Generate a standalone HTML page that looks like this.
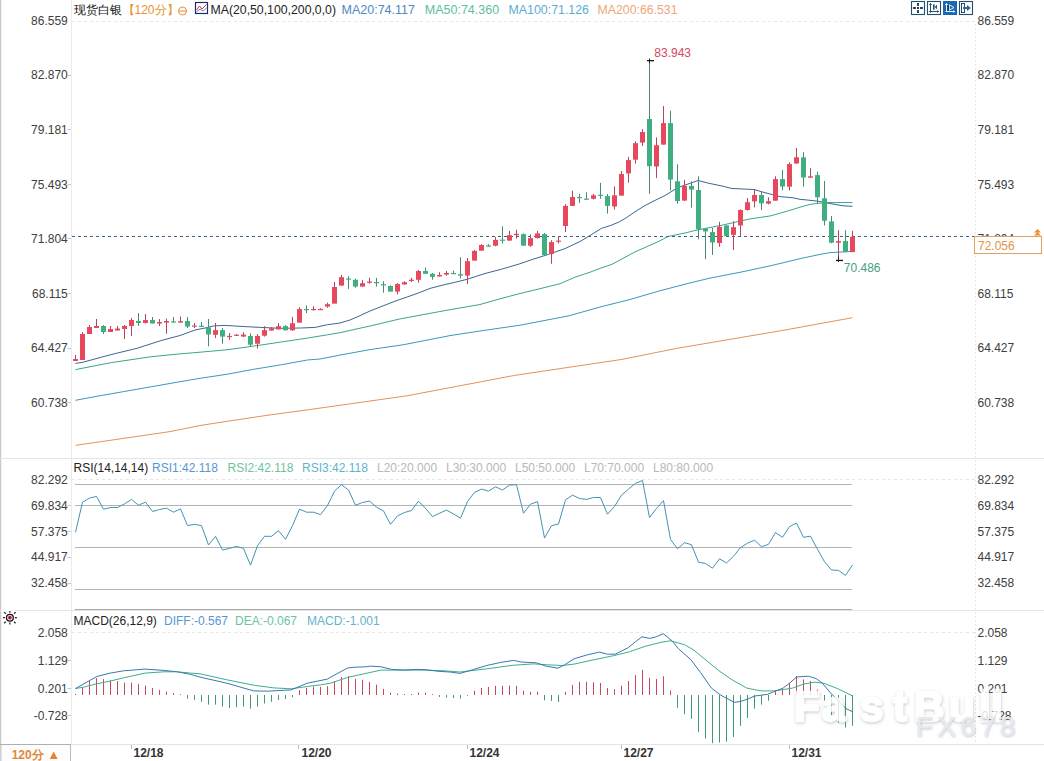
<!DOCTYPE html>
<html><head><meta charset="utf-8"><style>
html,body{margin:0;padding:0;background:#fff;}
body{width:1044px;height:761px;overflow:hidden;}
svg{display:block;font-family:"Liberation Sans", sans-serif;}
</style></head><body>
<svg width="1044" height="761" viewBox="0 0 1044 761">
<rect width="1044" height="761" fill="#fff"/>
<rect x="0" y="0" width="1.2" height="761" fill="#c9c9c9"/>
<line x1="0" y1="458.5" x2="1044" y2="458.5" stroke="#e4e4e4" stroke-width="1"/>
<line x1="0" y1="610.5" x2="1044" y2="610.5" stroke="#e4e4e4" stroke-width="1"/>
<line x1="0" y1="744.5" x2="1044" y2="744.5" stroke="#e4e4e4" stroke-width="1"/>
<line x1="71.5" y1="0" x2="71.5" y2="744" stroke="#ebebeb" stroke-width="1"/>
<line x1="975.5" y1="24" x2="975.5" y2="744" stroke="#e6e6ea" stroke-width="1" stroke-dasharray="2,2"/>
<rect x="0" y="745" width="70" height="16" fill="#fdfdfd"/>
<line x1="70.5" y1="744" x2="70.5" y2="761" stroke="#b8b8b8" stroke-width="1"/>
<line x1="0" y1="744.5" x2="71" y2="744.5" stroke="#b0b0b0" stroke-width="1"/>
<rect x="0" y="745" width="1.5" height="16" fill="#c8d0da"/>
<line x1="72" y1="21.5" x2="975" y2="21.5" stroke="#e6e6e6" stroke-width="1" stroke-dasharray="3,3"/>
<line x1="72" y1="479.5" x2="975" y2="479.5" stroke="#e6e6e6" stroke-width="1" stroke-dasharray="3,3"/>
<line x1="72" y1="632.5" x2="975" y2="632.5" stroke="#e6e6e6" stroke-width="1" stroke-dasharray="3,3"/>
<line x1="67.5" y1="75.5" x2="71" y2="75.5" stroke="#c8c8c8" stroke-width="1"/>
<line x1="67.5" y1="129.5" x2="71" y2="129.5" stroke="#c8c8c8" stroke-width="1"/>
<line x1="67.5" y1="184.5" x2="71" y2="184.5" stroke="#c8c8c8" stroke-width="1"/>
<line x1="67.5" y1="238.5" x2="71" y2="238.5" stroke="#c8c8c8" stroke-width="1"/>
<line x1="67.5" y1="293.5" x2="71" y2="293.5" stroke="#c8c8c8" stroke-width="1"/>
<line x1="67.5" y1="348.5" x2="71" y2="348.5" stroke="#c8c8c8" stroke-width="1"/>
<line x1="67.5" y1="402.5" x2="71" y2="402.5" stroke="#c8c8c8" stroke-width="1"/>
<line x1="67.5" y1="505.5" x2="71" y2="505.5" stroke="#c8c8c8" stroke-width="1"/>
<line x1="67.5" y1="531.5" x2="71" y2="531.5" stroke="#c8c8c8" stroke-width="1"/>
<line x1="67.5" y1="557.5" x2="71" y2="557.5" stroke="#c8c8c8" stroke-width="1"/>
<line x1="67.5" y1="583.5" x2="71" y2="583.5" stroke="#c8c8c8" stroke-width="1"/>
<line x1="67.5" y1="660.5" x2="71" y2="660.5" stroke="#c8c8c8" stroke-width="1"/>
<line x1="67.5" y1="688.5" x2="71" y2="688.5" stroke="#c8c8c8" stroke-width="1"/>
<line x1="67.5" y1="715.5" x2="71" y2="715.5" stroke="#c8c8c8" stroke-width="1"/>
<line x1="75" y1="484.5" x2="852" y2="484.5" stroke="#b4b4b4" stroke-width="1"/>
<line x1="75" y1="505.5" x2="852" y2="505.5" stroke="#b4b4b4" stroke-width="1"/>
<line x1="75" y1="547.5" x2="852" y2="547.5" stroke="#b4b4b4" stroke-width="1"/>
<line x1="75" y1="589.5" x2="852" y2="589.5" stroke="#b4b4b4" stroke-width="1"/>
<line x1="75" y1="609.5" x2="852" y2="609.5" stroke="#a8a8a8" stroke-width="1"/>
<polyline points="75.5,445.3 100.0,441.8 170.0,431.6 200.0,425.5 220.0,422.4 270.0,414.9 300.0,410.9 330.0,406.7 407.0,395.8 514.6,375.4 622.0,359.4 675.5,348.6 729.0,339.5 784.0,330.2 852.5,317.7" fill="none" stroke="#e4915c" stroke-width="1"/>
<polyline points="75.5,400.3 96.8,396.3 123.6,391.6 150.5,386.9 177.3,382.2 200.0,378.3 226.8,374.3 253.6,369.3 280.5,364.9 307.3,360.0 320.0,359.0 340.0,355.1 370.0,349.6 403.0,344.8 450.0,335.6 480.0,331.0 520.0,325.2 569.0,315.8 600.0,307.0 630.0,299.5 659.0,291.0 685.0,284.2 710.0,278.1 740.0,272.3 770.0,265.9 800.0,258.7 820.0,254.4 830.0,252.6 845.0,251.8 852.5,251.3" fill="none" stroke="#3a98bd" stroke-width="1"/>
<polyline points="75.5,369.6 110.2,362.8 150.5,356.8 177.3,354.1 200.0,352.2 226.8,349.8 253.6,346.1 280.5,342.1 307.3,338.1 327.4,334.8 340.0,332.7 355.0,329.3 370.0,326.0 400.0,318.9 420.0,315.2 450.0,309.7 480.0,304.5 500.0,298.8 520.0,293.5 540.0,288.7 560.0,283.7 575.0,277.2 590.0,272.2 600.0,268.4 612.0,264.3 635.0,251.9 659.0,241.3 668.0,236.5 685.0,233.0 697.0,230.0 706.0,228.3 722.8,225.0 750.5,218.8 770.0,216.0 778.0,213.8 790.0,210.3 800.0,207.2 810.0,204.4 818.0,203.3 830.0,202.6 852.5,202.5" fill="none" stroke="#3aa68a" stroke-width="1"/>
<polyline points="75.5,363.5 83.4,362.1 110.2,354.8 137.0,348.3 161.2,340.5 180.0,335.5 195.0,330.0 205.0,328.0 213.4,326.0 224.1,325.4 246.9,326.7 260.3,327.4 280.5,328.3 300.6,328.0 315.3,327.4 327.4,324.7 340.0,323.0 350.0,320.0 357.0,317.0 370.0,311.0 395.0,301.2 410.0,296.0 420.0,292.4 430.0,288.4 443.0,285.0 455.0,282.3 467.0,279.3 485.0,273.5 501.6,269.2 518.9,264.1 533.4,259.1 547.8,254.6 565.0,248.6 580.0,241.5 592.0,234.3 601.4,228.4 610.9,225.4 619.2,221.9 626.2,217.8 635.0,211.8 645.0,205.5 655.0,200.4 665.0,195.5 670.0,192.5 677.0,188.0 690.0,183.3 698.0,180.5 709.0,183.3 722.0,186.0 732.0,188.5 754.0,189.5 764.0,192.4 780.0,196.6 793.0,197.8 800.0,199.3 810.0,200.3 818.0,201.2 830.0,203.5 843.0,205.8 852.5,206.3" fill="none" stroke="#3b6795" stroke-width="1"/>
<line x1="72" y1="236.5" x2="975" y2="236.5" stroke="#3d5d7d" stroke-width="1" stroke-dasharray="3,3"/>
<rect x="75" y="355.0" width="1" height="6.0" fill="#b0455c"/>
<rect x="73" y="359.0" width="5" height="2.0" fill="#e8485e"/>
<rect x="82" y="332.0" width="1" height="28.0" fill="#b0455c"/>
<rect x="80" y="334.0" width="5" height="26.0" fill="#e8485e"/>
<rect x="89" y="325.0" width="1" height="9.0" fill="#b0455c"/>
<rect x="87" y="327.0" width="5" height="7.0" fill="#e8485e"/>
<rect x="96" y="319.0" width="1" height="9.0" fill="#b0455c"/>
<rect x="94" y="326.0" width="5" height="2.0" fill="#e8485e"/>
<rect x="103" y="325.0" width="1" height="9.0" fill="#468a70"/>
<rect x="101" y="326.0" width="5" height="6.0" fill="#3fae80"/>
<rect x="110" y="326.0" width="1" height="6.0" fill="#b0455c"/>
<rect x="108" y="329.0" width="5" height="3.0" fill="#e8485e"/>
<rect x="117" y="326.0" width="1" height="4.5" fill="#b0455c"/>
<rect x="115" y="328.5" width="5" height="2.0" fill="#e8485e"/>
<rect x="124" y="325.0" width="1" height="14.0" fill="#b0455c"/>
<rect x="122" y="326.0" width="5" height="3.0" fill="#e8485e"/>
<rect x="131" y="318.0" width="1" height="18.0" fill="#b0455c"/>
<rect x="129" y="320.0" width="5" height="6.0" fill="#e8485e"/>
<rect x="138" y="313.0" width="1" height="13.0" fill="#468a70"/>
<rect x="136" y="321.0" width="5" height="2.0" fill="#3fae80"/>
<rect x="145" y="314.0" width="1" height="9.5" fill="#b0455c"/>
<rect x="143" y="320.0" width="5" height="3.0" fill="#e8485e"/>
<rect x="152" y="317.0" width="1" height="6.5" fill="#468a70"/>
<rect x="150" y="320.0" width="5" height="3.5" fill="#3fae80"/>
<rect x="159" y="319.0" width="1" height="7.0" fill="#b0455c"/>
<rect x="157" y="322.0" width="5" height="1.5" fill="#e8485e"/>
<rect x="166" y="318.6" width="1" height="15.1" fill="#b0455c"/>
<rect x="164" y="321.0" width="5" height="1.6" fill="#e8485e"/>
<rect x="173" y="317.0" width="1" height="5.6" fill="#468a70"/>
<rect x="171" y="321.4" width="5" height="1.2" fill="#3fae80"/>
<rect x="180" y="316.5" width="1" height="6.1" fill="#b0455c"/>
<rect x="178" y="321.2" width="5" height="1.4" fill="#e8485e"/>
<rect x="187" y="317.0" width="1" height="11.0" fill="#468a70"/>
<rect x="185" y="321.0" width="5" height="5.5" fill="#3fae80"/>
<rect x="194" y="323.0" width="1" height="5.0" fill="#b0455c"/>
<rect x="192" y="325.5" width="5" height="1.2" fill="#e8485e"/>
<rect x="201" y="322.0" width="1" height="4.7" fill="#468a70"/>
<rect x="199" y="325.8" width="5" height="1.2" fill="#3fae80"/>
<rect x="208" y="319.0" width="1" height="27.3" fill="#468a70"/>
<rect x="206" y="327.4" width="5" height="7.1" fill="#3fae80"/>
<rect x="215" y="323.0" width="1" height="15.0" fill="#b0455c"/>
<rect x="213" y="330.1" width="5" height="4.7" fill="#e8485e"/>
<rect x="222" y="328.0" width="1" height="15.8" fill="#468a70"/>
<rect x="220" y="330.1" width="5" height="6.5" fill="#3fae80"/>
<rect x="229" y="333.0" width="1" height="6.8" fill="#b0455c"/>
<rect x="227" y="335.9" width="5" height="1.2" fill="#e8485e"/>
<rect x="236" y="334.0" width="1" height="2.0" fill="#b0455c"/>
<rect x="234" y="334.7" width="5" height="1.2" fill="#e8485e"/>
<rect x="243" y="332.3" width="1" height="4.3" fill="#b0455c"/>
<rect x="241" y="334.6" width="5" height="2.0" fill="#e8485e"/>
<rect x="250" y="333.4" width="1" height="12.6" fill="#468a70"/>
<rect x="248" y="336.0" width="5" height="8.7" fill="#3fae80"/>
<rect x="257" y="334.1" width="1" height="14.4" fill="#b0455c"/>
<rect x="255" y="336.0" width="5" height="7.7" fill="#e8485e"/>
<rect x="264" y="326.2" width="1" height="10.4" fill="#b0455c"/>
<rect x="262" y="330.1" width="5" height="5.6" fill="#e8485e"/>
<rect x="271" y="327.3" width="1" height="3.2" fill="#b0455c"/>
<rect x="269" y="328.3" width="5" height="2.2" fill="#e8485e"/>
<rect x="278" y="323.0" width="1" height="6.4" fill="#b0455c"/>
<rect x="276" y="326.2" width="5" height="3.2" fill="#e8485e"/>
<rect x="285" y="325.2" width="1" height="5.1" fill="#468a70"/>
<rect x="283" y="326.1" width="5" height="4.2" fill="#3fae80"/>
<rect x="292" y="316.9" width="1" height="13.8" fill="#b0455c"/>
<rect x="290" y="323.2" width="5" height="7.1" fill="#e8485e"/>
<rect x="299" y="307.3" width="1" height="15.3" fill="#b0455c"/>
<rect x="297" y="309.1" width="5" height="13.5" fill="#e8485e"/>
<rect x="306" y="305.4" width="1" height="7.6" fill="#468a70"/>
<rect x="304" y="309.0" width="5" height="1.2" fill="#3fae80"/>
<rect x="313" y="306.3" width="1" height="4.2" fill="#b0455c"/>
<rect x="311" y="309.0" width="5" height="1.2" fill="#e8485e"/>
<rect x="320" y="308.2" width="1" height="1.8" fill="#b0455c"/>
<rect x="318" y="309.0" width="5" height="1.2" fill="#e8485e"/>
<rect x="327" y="302.7" width="1" height="5.0" fill="#b0455c"/>
<rect x="325" y="304.2" width="5" height="2.4" fill="#e8485e"/>
<rect x="334" y="282.0" width="1" height="21.6" fill="#b0455c"/>
<rect x="332" y="287.0" width="5" height="16.6" fill="#e8485e"/>
<rect x="341" y="275.0" width="1" height="10.6" fill="#b0455c"/>
<rect x="339" y="277.2" width="5" height="8.4" fill="#e8485e"/>
<rect x="348" y="276.0" width="1" height="12.9" fill="#468a70"/>
<rect x="346" y="278.5" width="5" height="1.2" fill="#3fae80"/>
<rect x="355" y="278.7" width="1" height="9.0" fill="#468a70"/>
<rect x="353" y="279.8" width="5" height="6.8" fill="#3fae80"/>
<rect x="362" y="280.1" width="1" height="6.5" fill="#b0455c"/>
<rect x="360" y="283.2" width="5" height="3.4" fill="#e8485e"/>
<rect x="369" y="277.8" width="1" height="5.9" fill="#b0455c"/>
<rect x="367" y="281.5" width="5" height="1.3" fill="#e8485e"/>
<rect x="376" y="278.0" width="1" height="8.6" fill="#468a70"/>
<rect x="374" y="282.0" width="5" height="1.3" fill="#3fae80"/>
<rect x="383" y="281.2" width="1" height="11.5" fill="#468a70"/>
<rect x="381" y="284.2" width="5" height="1.2" fill="#3fae80"/>
<rect x="390" y="285.2" width="1" height="6.4" fill="#468a70"/>
<rect x="388" y="286.0" width="5" height="5.6" fill="#3fae80"/>
<rect x="397" y="283.0" width="1" height="11.5" fill="#b0455c"/>
<rect x="395" y="284.1" width="5" height="7.5" fill="#e8485e"/>
<rect x="404" y="281.2" width="1" height="3.3" fill="#b0455c"/>
<rect x="402" y="282.2" width="5" height="2.3" fill="#e8485e"/>
<rect x="411" y="277.8" width="1" height="4.2" fill="#b0455c"/>
<rect x="409" y="279.7" width="5" height="1.3" fill="#e8485e"/>
<rect x="418" y="270.0" width="1" height="12.7" fill="#b0455c"/>
<rect x="416" y="271.0" width="5" height="8.8" fill="#e8485e"/>
<rect x="425" y="267.5" width="1" height="6.3" fill="#468a70"/>
<rect x="423" y="271.0" width="5" height="2.8" fill="#3fae80"/>
<rect x="432" y="273.0" width="1" height="6.7" fill="#468a70"/>
<rect x="430" y="273.8" width="5" height="3.1" fill="#3fae80"/>
<rect x="439" y="272.2" width="1" height="4.3" fill="#b0455c"/>
<rect x="437" y="275.0" width="5" height="1.5" fill="#e8485e"/>
<rect x="446" y="271.0" width="1" height="4.7" fill="#b0455c"/>
<rect x="444" y="273.0" width="5" height="1.6" fill="#e8485e"/>
<rect x="453" y="270.6" width="1" height="3.4" fill="#468a70"/>
<rect x="451" y="273.0" width="5" height="1.2" fill="#3fae80"/>
<rect x="460" y="257.2" width="1" height="21.3" fill="#468a70"/>
<rect x="458" y="274.2" width="5" height="1.4" fill="#3fae80"/>
<rect x="467" y="258.0" width="1" height="26.0" fill="#b0455c"/>
<rect x="465" y="261.2" width="5" height="14.4" fill="#e8485e"/>
<rect x="474" y="250.1" width="1" height="10.5" fill="#b0455c"/>
<rect x="472" y="250.9" width="5" height="9.7" fill="#e8485e"/>
<rect x="481" y="244.2" width="1" height="6.5" fill="#b0455c"/>
<rect x="479" y="245.0" width="5" height="5.7" fill="#e8485e"/>
<rect x="488" y="244.2" width="1" height="2.4" fill="#468a70"/>
<rect x="486" y="245.4" width="5" height="1.2" fill="#3fae80"/>
<rect x="495" y="237.0" width="1" height="9.4" fill="#b0455c"/>
<rect x="493" y="239.9" width="5" height="5.8" fill="#e8485e"/>
<rect x="502" y="226.2" width="1" height="17.3" fill="#468a70"/>
<rect x="500" y="239.6" width="5" height="1.2" fill="#3fae80"/>
<rect x="509" y="230.9" width="1" height="9.7" fill="#b0455c"/>
<rect x="507" y="235.2" width="5" height="5.4" fill="#e8485e"/>
<rect x="516" y="229.8" width="1" height="9.0" fill="#b0455c"/>
<rect x="514" y="233.8" width="5" height="1.4" fill="#e8485e"/>
<rect x="523" y="233.4" width="1" height="12.3" fill="#468a70"/>
<rect x="521" y="234.1" width="5" height="11.6" fill="#3fae80"/>
<rect x="530" y="234.5" width="1" height="12.3" fill="#b0455c"/>
<rect x="528" y="238.1" width="5" height="7.6" fill="#e8485e"/>
<rect x="537" y="230.9" width="1" height="7.6" fill="#b0455c"/>
<rect x="535" y="233.4" width="5" height="4.7" fill="#e8485e"/>
<rect x="544" y="233.0" width="1" height="22.5" fill="#468a70"/>
<rect x="542" y="234.1" width="5" height="21.0" fill="#3fae80"/>
<rect x="551" y="240.3" width="1" height="23.5" fill="#b0455c"/>
<rect x="549" y="242.1" width="5" height="11.9" fill="#e8485e"/>
<rect x="558" y="236.7" width="1" height="6.8" fill="#b0455c"/>
<rect x="556" y="240.6" width="5" height="1.2" fill="#e8485e"/>
<rect x="565" y="204.2" width="1" height="27.8" fill="#b0455c"/>
<rect x="563" y="205.9" width="5" height="20.1" fill="#e8485e"/>
<rect x="572" y="190.5" width="1" height="15.4" fill="#b0455c"/>
<rect x="570" y="197.0" width="5" height="8.9" fill="#e8485e"/>
<rect x="579" y="193.7" width="1" height="9.3" fill="#468a70"/>
<rect x="577" y="197.0" width="5" height="1.2" fill="#3fae80"/>
<rect x="586" y="192.3" width="1" height="7.5" fill="#468a70"/>
<rect x="584" y="198.6" width="5" height="1.2" fill="#3fae80"/>
<rect x="593" y="194.0" width="1" height="5.4" fill="#b0455c"/>
<rect x="591" y="195.3" width="5" height="3.5" fill="#e8485e"/>
<rect x="600" y="182.9" width="1" height="15.9" fill="#468a70"/>
<rect x="598" y="194.7" width="5" height="1.2" fill="#3fae80"/>
<rect x="607" y="194.0" width="1" height="19.6" fill="#468a70"/>
<rect x="605" y="196.1" width="5" height="9.8" fill="#3fae80"/>
<rect x="614" y="186.4" width="1" height="23.1" fill="#b0455c"/>
<rect x="612" y="195.3" width="5" height="11.2" fill="#e8485e"/>
<rect x="621" y="171.0" width="1" height="24.6" fill="#b0455c"/>
<rect x="619" y="174.0" width="5" height="21.6" fill="#e8485e"/>
<rect x="628" y="156.8" width="1" height="25.8" fill="#b0455c"/>
<rect x="626" y="160.1" width="5" height="13.3" fill="#e8485e"/>
<rect x="635" y="141.3" width="1" height="22.3" fill="#b0455c"/>
<rect x="633" y="143.2" width="5" height="16.5" fill="#e8485e"/>
<rect x="642" y="129.2" width="1" height="16.7" fill="#b0455c"/>
<rect x="640" y="132.0" width="5" height="10.6" fill="#e8485e"/>
<rect x="649" y="60.5" width="1" height="133.3" fill="#468a70"/>
<rect x="647" y="119.0" width="5" height="47.2" fill="#3fae80"/>
<rect x="656" y="137.3" width="1" height="40.7" fill="#b0455c"/>
<rect x="654" y="145.2" width="5" height="21.3" fill="#e8485e"/>
<rect x="663" y="106.0" width="1" height="38.6" fill="#b0455c"/>
<rect x="661" y="123.1" width="5" height="21.5" fill="#e8485e"/>
<rect x="670" y="110.7" width="1" height="79.8" fill="#468a70"/>
<rect x="668" y="123.1" width="5" height="56.5" fill="#3fae80"/>
<rect x="677" y="164.3" width="1" height="39.4" fill="#468a70"/>
<rect x="675" y="181.3" width="5" height="19.7" fill="#3fae80"/>
<rect x="684" y="180.0" width="1" height="20.6" fill="#b0455c"/>
<rect x="682" y="185.9" width="5" height="14.7" fill="#e8485e"/>
<rect x="691" y="181.3" width="1" height="26.3" fill="#468a70"/>
<rect x="689" y="185.9" width="5" height="3.7" fill="#3fae80"/>
<rect x="698" y="176.2" width="1" height="63.1" fill="#468a70"/>
<rect x="696" y="190.0" width="5" height="39.3" fill="#3fae80"/>
<rect x="705" y="228.0" width="1" height="31.2" fill="#468a70"/>
<rect x="703" y="228.4" width="5" height="3.0" fill="#3fae80"/>
<rect x="712" y="228.0" width="1" height="26.9" fill="#468a70"/>
<rect x="710" y="232.1" width="5" height="10.3" fill="#3fae80"/>
<rect x="719" y="221.8" width="1" height="24.9" fill="#b0455c"/>
<rect x="717" y="226.8" width="5" height="16.2" fill="#e8485e"/>
<rect x="726" y="224.9" width="1" height="11.2" fill="#468a70"/>
<rect x="724" y="225.5" width="5" height="10.6" fill="#3fae80"/>
<rect x="733" y="221.2" width="1" height="28.7" fill="#b0455c"/>
<rect x="731" y="227.2" width="5" height="7.7" fill="#e8485e"/>
<rect x="740" y="209.3" width="1" height="26.8" fill="#b0455c"/>
<rect x="738" y="210.0" width="5" height="15.5" fill="#e8485e"/>
<rect x="747" y="198.1" width="1" height="12.5" fill="#b0455c"/>
<rect x="745" y="202.2" width="5" height="7.8" fill="#e8485e"/>
<rect x="754" y="189.3" width="1" height="18.1" fill="#b0455c"/>
<rect x="752" y="195.0" width="5" height="6.4" fill="#e8485e"/>
<rect x="761" y="191.8" width="1" height="18.2" fill="#468a70"/>
<rect x="759" y="195.0" width="5" height="8.4" fill="#3fae80"/>
<rect x="768" y="197.2" width="1" height="7.2" fill="#b0455c"/>
<rect x="766" y="201.2" width="5" height="2.4" fill="#e8485e"/>
<rect x="775" y="176.3" width="1" height="24.4" fill="#b0455c"/>
<rect x="773" y="179.1" width="5" height="21.6" fill="#e8485e"/>
<rect x="782" y="169.9" width="1" height="20.5" fill="#468a70"/>
<rect x="780" y="179.1" width="5" height="7.4" fill="#3fae80"/>
<rect x="789" y="162.3" width="1" height="28.1" fill="#b0455c"/>
<rect x="787" y="164.1" width="5" height="22.6" fill="#e8485e"/>
<rect x="796" y="148.1" width="1" height="15.4" fill="#b0455c"/>
<rect x="794" y="157.3" width="5" height="6.2" fill="#e8485e"/>
<rect x="803" y="152.1" width="1" height="34.4" fill="#468a70"/>
<rect x="801" y="157.3" width="5" height="20.2" fill="#3fae80"/>
<rect x="810" y="168.1" width="1" height="9.6" fill="#b0455c"/>
<rect x="808" y="176.3" width="5" height="1.4" fill="#e8485e"/>
<rect x="817" y="171.7" width="1" height="31.6" fill="#468a70"/>
<rect x="815" y="175.1" width="5" height="22.2" fill="#3fae80"/>
<rect x="824" y="181.0" width="1" height="44.5" fill="#468a70"/>
<rect x="822" y="198.3" width="5" height="22.5" fill="#3fae80"/>
<rect x="831" y="216.0" width="1" height="27.3" fill="#468a70"/>
<rect x="829" y="221.4" width="5" height="21.3" fill="#3fae80"/>
<rect x="838" y="230.2" width="1" height="30.2" fill="#b0455c"/>
<rect x="836" y="241.1" width="5" height="1.6" fill="#e8485e"/>
<rect x="845" y="230.2" width="1" height="21.9" fill="#468a70"/>
<rect x="843" y="241.1" width="5" height="11.0" fill="#3fae80"/>
<rect x="852" y="230.8" width="1" height="21.3" fill="#b0455c"/>
<rect x="850" y="236.7" width="5" height="15.4" fill="#e8485e"/>
<rect x="647" y="60" width="7" height="1.3" fill="#111"/>
<rect x="836" y="259.8" width="7" height="1.3" fill="#111"/>
<rect x="649" y="58.5" width="1" height="5" fill="#222"/>
<rect x="838" y="256.5" width="1" height="5.5" fill="#222"/>
<polyline points="75.5,532.3 82.5,502.1 89.5,498.1 96.5,496.4 103.5,509.2 110.5,507.5 117.5,507.5 124.5,503.9 131.5,499.4 138.5,505.2 145.5,502.1 152.5,511.5 159.5,509.5 166.5,508.2 173.5,512.2 180.5,508.8 187.5,525.6 194.5,524.3 201.5,525.6 208.5,545.0 215.5,536.3 222.5,550.0 229.5,548.4 236.5,546.4 243.5,548.4 250.5,565.2 257.5,545.7 264.5,536.3 271.5,536.3 278.5,530.7 285.5,539.3 292.5,525.6 299.5,509.2 306.5,512.2 313.5,512.2 320.5,514.6 327.5,505.5 334.5,491.2 341.5,484.7 348.5,490.0 355.5,505.2 362.5,502.5 369.5,501.1 376.5,507.2 383.5,510.9 390.5,524.3 397.5,515.9 404.5,512.5 411.5,510.5 418.5,501.1 425.5,508.3 432.5,516.6 439.5,513.2 446.5,510.1 453.5,513.9 460.5,518.2 467.5,501.5 474.5,492.4 481.5,489.1 488.5,491.1 495.5,486.8 502.5,490.0 509.5,485.1 516.5,484.7 523.5,513.2 530.5,504.2 537.5,501.6 544.5,538.0 551.5,525.7 558.5,524.0 565.5,499.8 572.5,495.1 579.5,498.5 586.5,499.4 593.5,497.5 600.5,497.5 607.5,514.2 614.5,506.5 621.5,495.1 628.5,489.1 635.5,483.3 642.5,480.4 649.5,517.6 656.5,508.5 663.5,500.5 670.5,539.4 677.5,548.8 684.5,542.7 691.5,544.7 698.5,562.2 705.5,563.5 712.5,568.2 719.5,558.8 726.5,563.0 733.5,556.3 740.5,547.6 747.5,543.2 754.5,540.2 761.5,546.7 768.5,544.3 775.5,532.5 782.5,537.3 789.5,526.6 796.5,523.1 803.5,537.3 810.5,536.2 817.5,549.3 824.5,561.7 831.5,570.0 838.5,570.4 845.5,575.4 852.5,565.0" fill="none" stroke="#4493b3" stroke-width="1"/>
<rect x="75" y="693.9" width="1" height="1.1" fill="#c8485f"/>
<rect x="82" y="687.2" width="1" height="7.8" fill="#c8485f"/>
<rect x="89" y="681.1" width="1" height="13.9" fill="#c8485f"/>
<rect x="96" y="678.1" width="1" height="16.9" fill="#c8485f"/>
<rect x="103" y="679.1" width="1" height="15.9" fill="#c8485f"/>
<rect x="110" y="680.2" width="1" height="14.8" fill="#c8485f"/>
<rect x="117" y="681.1" width="1" height="13.9" fill="#c8485f"/>
<rect x="124" y="682.5" width="1" height="12.5" fill="#c8485f"/>
<rect x="131" y="682.5" width="1" height="12.5" fill="#c8485f"/>
<rect x="138" y="683.8" width="1" height="11.2" fill="#c8485f"/>
<rect x="145" y="685.6" width="1" height="9.4" fill="#c8485f"/>
<rect x="152" y="687.9" width="1" height="7.1" fill="#c8485f"/>
<rect x="159" y="689.9" width="1" height="5.1" fill="#c8485f"/>
<rect x="166" y="691.5" width="1" height="3.5" fill="#c8485f"/>
<rect x="173" y="693.2" width="1" height="1.8" fill="#c8485f"/>
<rect x="180" y="694.2" width="1" height="0.8" fill="#c8485f"/>
<rect x="187" y="695.0" width="1" height="3.6" fill="#3f9a74"/>
<rect x="194" y="695.0" width="1" height="4.9" fill="#3f9a74"/>
<rect x="201" y="695.0" width="1" height="6.9" fill="#3f9a74"/>
<rect x="208" y="695.0" width="1" height="9.6" fill="#3f9a74"/>
<rect x="215" y="695.0" width="1" height="9.6" fill="#3f9a74"/>
<rect x="222" y="695.0" width="1" height="11.6" fill="#3f9a74"/>
<rect x="229" y="695.0" width="1" height="13.0" fill="#3f9a74"/>
<rect x="236" y="695.0" width="1" height="12.3" fill="#3f9a74"/>
<rect x="243" y="695.0" width="1" height="11.6" fill="#3f9a74"/>
<rect x="250" y="695.0" width="1" height="13.6" fill="#3f9a74"/>
<rect x="257" y="695.0" width="1" height="11.6" fill="#3f9a74"/>
<rect x="264" y="695.0" width="1" height="8.5" fill="#3f9a74"/>
<rect x="271" y="695.0" width="1" height="6.7" fill="#3f9a74"/>
<rect x="278" y="695.0" width="1" height="4.9" fill="#3f9a74"/>
<rect x="285" y="695.0" width="1" height="4.0" fill="#3f9a74"/>
<rect x="292" y="695.0" width="1" height="2.2" fill="#3f9a74"/>
<rect x="299" y="690.1" width="1" height="4.9" fill="#c8485f"/>
<rect x="306" y="687.9" width="1" height="7.1" fill="#c8485f"/>
<rect x="313" y="686.5" width="1" height="8.5" fill="#c8485f"/>
<rect x="320" y="686.9" width="1" height="8.1" fill="#c8485f"/>
<rect x="327" y="686.1" width="1" height="8.9" fill="#c8485f"/>
<rect x="334" y="681.1" width="1" height="13.9" fill="#c8485f"/>
<rect x="341" y="677.1" width="1" height="17.9" fill="#c8485f"/>
<rect x="348" y="676.1" width="1" height="18.9" fill="#c8485f"/>
<rect x="355" y="678.8" width="1" height="16.2" fill="#c8485f"/>
<rect x="362" y="679.8" width="1" height="15.2" fill="#c8485f"/>
<rect x="369" y="681.9" width="1" height="13.1" fill="#c8485f"/>
<rect x="376" y="684.6" width="1" height="10.4" fill="#c8485f"/>
<rect x="383" y="688.9" width="1" height="6.1" fill="#c8485f"/>
<rect x="390" y="692.6" width="1" height="2.4" fill="#c8485f"/>
<rect x="397" y="693.6" width="1" height="1.4" fill="#c8485f"/>
<rect x="404" y="694.0" width="1" height="1.0" fill="#c8485f"/>
<rect x="411" y="694.0" width="1" height="1.0" fill="#c8485f"/>
<rect x="418" y="692.6" width="1" height="2.4" fill="#c8485f"/>
<rect x="425" y="692.6" width="1" height="2.4" fill="#c8485f"/>
<rect x="432" y="694.2" width="1" height="0.8" fill="#c8485f"/>
<rect x="439" y="695.0" width="1" height="2.0" fill="#3f9a74"/>
<rect x="446" y="695.0" width="1" height="2.6" fill="#3f9a74"/>
<rect x="453" y="695.0" width="1" height="3.0" fill="#3f9a74"/>
<rect x="460" y="695.0" width="1" height="3.5" fill="#3f9a74"/>
<rect x="467" y="695.0" width="1" height="0.8" fill="#3f9a74"/>
<rect x="474" y="690.7" width="1" height="4.3" fill="#c8485f"/>
<rect x="481" y="688.0" width="1" height="7.0" fill="#c8485f"/>
<rect x="488" y="686.9" width="1" height="8.1" fill="#c8485f"/>
<rect x="495" y="685.9" width="1" height="9.1" fill="#c8485f"/>
<rect x="502" y="685.9" width="1" height="9.1" fill="#c8485f"/>
<rect x="509" y="685.6" width="1" height="9.4" fill="#c8485f"/>
<rect x="516" y="685.9" width="1" height="9.1" fill="#c8485f"/>
<rect x="523" y="690.7" width="1" height="4.3" fill="#c8485f"/>
<rect x="530" y="692.0" width="1" height="3.0" fill="#c8485f"/>
<rect x="537" y="691.6" width="1" height="3.4" fill="#c8485f"/>
<rect x="544" y="695.0" width="1" height="5.3" fill="#3f9a74"/>
<rect x="551" y="695.0" width="1" height="6.0" fill="#3f9a74"/>
<rect x="558" y="695.0" width="1" height="7.0" fill="#3f9a74"/>
<rect x="565" y="692.0" width="1" height="3.0" fill="#c8485f"/>
<rect x="572" y="684.9" width="1" height="10.1" fill="#c8485f"/>
<rect x="579" y="681.8" width="1" height="13.2" fill="#c8485f"/>
<rect x="586" y="681.8" width="1" height="13.2" fill="#c8485f"/>
<rect x="593" y="682.2" width="1" height="12.8" fill="#c8485f"/>
<rect x="600" y="683.0" width="1" height="12.0" fill="#c8485f"/>
<rect x="607" y="688.1" width="1" height="6.9" fill="#c8485f"/>
<rect x="614" y="689.3" width="1" height="5.7" fill="#c8485f"/>
<rect x="621" y="685.7" width="1" height="9.3" fill="#c8485f"/>
<rect x="628" y="681.0" width="1" height="14.0" fill="#c8485f"/>
<rect x="635" y="675.1" width="1" height="19.9" fill="#c8485f"/>
<rect x="642" y="669.9" width="1" height="25.1" fill="#c8485f"/>
<rect x="649" y="677.8" width="1" height="17.2" fill="#c8485f"/>
<rect x="656" y="678.9" width="1" height="16.1" fill="#c8485f"/>
<rect x="663" y="676.2" width="1" height="18.8" fill="#c8485f"/>
<rect x="670" y="690.4" width="1" height="4.6" fill="#c8485f"/>
<rect x="677" y="695.0" width="1" height="12.8" fill="#3f9a74"/>
<rect x="684" y="695.0" width="1" height="19.1" fill="#3f9a74"/>
<rect x="691" y="695.0" width="1" height="23.8" fill="#3f9a74"/>
<rect x="698" y="695.0" width="1" height="37.2" fill="#3f9a74"/>
<rect x="705" y="695.0" width="1" height="43.5" fill="#3f9a74"/>
<rect x="712" y="695.0" width="1" height="48.2" fill="#3f9a74"/>
<rect x="719" y="695.0" width="1" height="47.5" fill="#3f9a74"/>
<rect x="726" y="695.0" width="1" height="46.7" fill="#3f9a74"/>
<rect x="733" y="695.0" width="1" height="42.0" fill="#3f9a74"/>
<rect x="740" y="695.0" width="1" height="30.9" fill="#3f9a74"/>
<rect x="747" y="695.0" width="1" height="23.0" fill="#3f9a74"/>
<rect x="754" y="695.0" width="1" height="13.6" fill="#3f9a74"/>
<rect x="761" y="695.0" width="1" height="9.6" fill="#3f9a74"/>
<rect x="768" y="695.0" width="1" height="5.7" fill="#3f9a74"/>
<rect x="775" y="691.2" width="1" height="3.8" fill="#c8485f"/>
<rect x="782" y="688.9" width="1" height="6.1" fill="#c8485f"/>
<rect x="789" y="683.0" width="1" height="12.0" fill="#c8485f"/>
<rect x="796" y="676.2" width="1" height="18.8" fill="#c8485f"/>
<rect x="803" y="679.4" width="1" height="15.6" fill="#c8485f"/>
<rect x="810" y="681.0" width="1" height="14.0" fill="#c8485f"/>
<rect x="817" y="689.6" width="1" height="5.4" fill="#c8485f"/>
<rect x="824" y="695.0" width="1" height="5.7" fill="#3f9a74"/>
<rect x="831" y="695.0" width="1" height="20.0" fill="#3f9a74"/>
<rect x="838" y="695.0" width="1" height="27.7" fill="#3f9a74"/>
<rect x="845" y="695.0" width="1" height="32.5" fill="#3f9a74"/>
<rect x="852" y="695.0" width="1" height="30.9" fill="#3f9a74"/>
<polyline points="75.5,688.5 83.4,687.2 96.8,683.8 110.2,681.1 123.6,677.8 145.0,673.1 163.9,671.8 177.3,671.8 190.7,673.1 200.0,673.8 226.8,679.8 253.6,685.2 273.8,687.9 291.2,688.8 307.3,686.5 320.7,684.8 330.0,683.3 347.4,677.5 363.5,673.9 381.0,670.1 397.0,670.1 423.9,670.1 444.0,670.8 460.0,672.0 486.8,668.8 513.6,665.2 533.8,663.9 547.2,664.8 561.9,665.5 574.0,664.1 587.4,661.2 600.0,658.5 613.6,655.7 629.4,651.8 645.2,646.3 661.0,642.3 670.4,640.8 684.6,644.7 694.0,650.2 708.2,662.0 720.0,671.5 732.6,680.2 746.8,688.1 761.0,690.9 773.6,690.9 783.1,689.6 792.5,688.1 803.6,684.1 814.6,682.1 824.0,683.3 838.2,688.9 852.5,695.9" fill="none" stroke="#3fae8a" stroke-width="1"/>
<polyline points="75.5,688.5 96.8,676.5 110.2,673.1 123.6,670.8 145.0,669.1 163.9,670.4 177.3,671.8 190.7,674.4 200.0,677.1 226.8,683.2 253.6,690.9 267.0,691.2 291.2,689.9 307.3,683.2 327.4,679.1 330.0,677.5 347.4,668.1 354.1,667.2 366.2,666.8 370.2,666.1 381.0,666.8 391.7,669.4 403.8,670.1 417.2,669.4 426.6,669.8 437.3,671.2 450.7,672.1 460.1,673.4 473.4,669.5 486.8,665.5 500.2,662.5 513.6,660.4 521.7,662.1 536.4,662.8 545.8,666.1 557.9,668.2 564.6,664.8 574.0,658.8 587.4,654.8 599.5,652.1 607.3,654.2 615.2,654.2 627.8,647.9 635.7,641.6 642.0,636.8 649.9,638.4 656.2,636.8 663.3,633.7 672.0,640.8 678.3,648.6 690.9,659.7 700.4,672.3 711.4,688.1 720.9,695.2 734.2,702.3 740.5,701.5 747.6,699.1 754.7,696.0 767.3,694.4 775.2,691.2 783.1,688.1 789.4,683.3 796.5,677.0 808.3,676.2 816.2,678.6 822.5,683.3 830.4,692.8 838.2,700.7 846.1,708.6 852.5,711.7" fill="none" stroke="#3a78ad" stroke-width="1"/>
<line x1="131.5" y1="745" x2="131.5" y2="749" stroke="#bbb" stroke-width="1"/><line x1="298.5" y1="745" x2="298.5" y2="749" stroke="#bbb" stroke-width="1"/><line x1="467.5" y1="745" x2="467.5" y2="749" stroke="#bbb" stroke-width="1"/><line x1="621.5" y1="745" x2="621.5" y2="749" stroke="#bbb" stroke-width="1"/><line x1="789.5" y1="745" x2="789.5" y2="749" stroke="#bbb" stroke-width="1"/>

<g stroke="#24506e" fill="none" stroke-width="1.1">
  <rect x="911.5" y="1.5" width="13" height="13"/>
  <rect x="927.5" y="1.5" width="13" height="13"/>
  <rect x="959.5" y="1.5" width="13" height="13"/>
</g>
<rect x="943" y="1" width="14" height="14" fill="#1b68b0"/>
<g fill="#1f4a66">
  <rect x="917" y="3" width="2" height="3"/>
  <rect x="917" y="10" width="2" height="3"/>
  <rect x="913" y="7" width="3" height="2"/>
  <rect x="920" y="7" width="3" height="2"/>
  <rect x="917" y="7" width="2" height="2" fill="#333"/>
</g>
<g stroke="#24506e" stroke-width="1" fill="none">
  <path d="M930.5 3.5 V12 M929.3 5 L930.5 3.5 L931.7 5 M929.5 11.5 H938.7 M930.8 10.3 L929.5 11.5 L930.8 12.7 M937.4 10.3 L938.7 11.5 L937.4 12.7"/>
</g>
<rect x="933" y="4.3" width="1.6" height="5.5" fill="#24506e"/>
<path d="M937 4.5 L934.8 7 L937 9.5 Z" fill="#24506e"/>
<g stroke="#e8f6ff" stroke-width="1" fill="none">
  <path d="M946.5 3.5 V12 M945.3 5 L946.5 3.5 L947.7 5 M945.5 11.5 H954.7 M953.4 10.3 L954.7 11.5 L953.4 12.7"/>
  <path d="M949.3 4.8 V10.2 L954 7.5 Z"/>
</g>
<rect x="947.6" y="5" width="1.4" height="5.5" fill="#123a5a"/>
<rect x="961.5" y="3.5" width="3" height="9" fill="none" stroke="#24506e" stroke-width="1"/>
<rect x="963" y="7" width="4.5" height="2" fill="#2a6896"/>
<path d="M967 5 L970.8 8 L967 11 Z" fill="#2a6896"/>
<!-- minus circle -->
<g stroke="#e8922e" fill="none" stroke-width="1">
  <circle cx="182.5" cy="11" r="4"/>
  <line x1="178.5" y1="11" x2="186.5" y2="11"/>
</g>
<!-- chart icon -->
<rect x="195.5" y="2.5" width="12" height="11" fill="#fff" stroke="#1e2a6a" stroke-width="1.2"/>
<path d="M196.5 10 L199.5 6 L202 9 L206.5 4.5" stroke="#c8304a" fill="none" stroke-width="1"/>
<path d="M196.5 12 L200 9 L203 11 L206.5 8" stroke="#3a5ab0" fill="none" stroke-width="0.8"/>
<!-- triangle bottom-left -->
<path d="M49.8 759 L53.7 751.6 L57.6 759 Z" fill="#e8822a"/>
<!-- MACD sun icon -->
<rect x="1.5" y="609" width="13" height="3" fill="#fff"/>
<g stroke="#3a2228" stroke-width="1.3" stroke-linecap="butt">
  <line x1="9.9" y1="610.9" x2="9.9" y2="612.8"/>
  <line x1="9.9" y1="622.6" x2="9.9" y2="624.6"/>
  <line x1="3" y1="617.7" x2="5" y2="617.7"/>
  <line x1="14.9" y1="617.7" x2="16.9" y2="617.7"/>
  <line x1="4.2" y1="612.1" x2="5.8" y2="613.7"/>
  <line x1="15.6" y1="612.1" x2="14" y2="613.7"/>
  <line x1="4.2" y1="623.3" x2="5.8" y2="621.7"/>
  <line x1="15.6" y1="623.3" x2="14" y2="621.7"/>
</g>
<circle cx="9.9" cy="617.7" r="3.4" fill="#fff" stroke="#111" stroke-width="1.3"/>
<circle cx="9.9" cy="617.7" r="1.9" fill="#b81c3c"/>

<text x="67.8" y="24.7" font-size="12" fill="#404040" text-anchor="end" font-weight="normal" >86.559</text>
<text x="977.5" y="24.7" font-size="12" fill="#404040" text-anchor="start" font-weight="normal" >86.559</text>
<text x="67.8" y="79.3" font-size="12" fill="#404040" text-anchor="end" font-weight="normal" >82.870</text>
<text x="977.5" y="79.3" font-size="12" fill="#404040" text-anchor="start" font-weight="normal" >82.870</text>
<text x="67.8" y="133.9" font-size="12" fill="#404040" text-anchor="end" font-weight="normal" >79.181</text>
<text x="977.5" y="133.9" font-size="12" fill="#404040" text-anchor="start" font-weight="normal" >79.181</text>
<text x="67.8" y="188.5" font-size="12" fill="#404040" text-anchor="end" font-weight="normal" >75.493</text>
<text x="977.5" y="188.5" font-size="12" fill="#404040" text-anchor="start" font-weight="normal" >75.493</text>
<text x="67.8" y="297.7" font-size="12" fill="#404040" text-anchor="end" font-weight="normal" >68.115</text>
<text x="977.5" y="297.7" font-size="12" fill="#404040" text-anchor="start" font-weight="normal" >68.115</text>
<text x="67.8" y="352.3" font-size="12" fill="#404040" text-anchor="end" font-weight="normal" >64.427</text>
<text x="977.5" y="352.3" font-size="12" fill="#404040" text-anchor="start" font-weight="normal" >64.427</text>
<text x="67.8" y="406.9" font-size="12" fill="#404040" text-anchor="end" font-weight="normal" >60.738</text>
<text x="977.5" y="406.9" font-size="12" fill="#404040" text-anchor="start" font-weight="normal" >60.738</text>
<text x="67.8" y="243.1" font-size="12" fill="#404040" text-anchor="end" font-weight="normal" >71.804</text>
<text x="977.5" y="243.1" font-size="12" fill="#404040" text-anchor="start" font-weight="normal" >71.804</text>
<text x="67.8" y="483.6" font-size="12" fill="#404040" text-anchor="end" font-weight="normal" >82.292</text>
<text x="977.5" y="483.6" font-size="12" fill="#404040" text-anchor="start" font-weight="normal" >82.292</text>
<text x="67.8" y="509.5" font-size="12" fill="#404040" text-anchor="end" font-weight="normal" >69.834</text>
<text x="977.5" y="509.5" font-size="12" fill="#404040" text-anchor="start" font-weight="normal" >69.834</text>
<text x="67.8" y="535.5" font-size="12" fill="#404040" text-anchor="end" font-weight="normal" >57.375</text>
<text x="977.5" y="535.5" font-size="12" fill="#404040" text-anchor="start" font-weight="normal" >57.375</text>
<text x="67.8" y="561.4" font-size="12" fill="#404040" text-anchor="end" font-weight="normal" >44.917</text>
<text x="977.5" y="561.4" font-size="12" fill="#404040" text-anchor="start" font-weight="normal" >44.917</text>
<text x="67.8" y="587.3" font-size="12" fill="#404040" text-anchor="end" font-weight="normal" >32.458</text>
<text x="977.5" y="587.3" font-size="12" fill="#404040" text-anchor="start" font-weight="normal" >32.458</text>
<text x="67.8" y="636.5" font-size="12" fill="#404040" text-anchor="end" font-weight="normal" >2.058</text>
<text x="977.5" y="636.5" font-size="12" fill="#404040" text-anchor="start" font-weight="normal" >2.058</text>
<text x="67.8" y="664.6" font-size="12" fill="#404040" text-anchor="end" font-weight="normal" >1.129</text>
<text x="977.5" y="664.6" font-size="12" fill="#404040" text-anchor="start" font-weight="normal" >1.129</text>
<text x="67.8" y="692.7" font-size="12" fill="#404040" text-anchor="end" font-weight="normal" >0.201</text>
<text x="977.5" y="692.7" font-size="12" fill="#404040" text-anchor="start" font-weight="normal" >0.201</text>
<text x="67.8" y="720.2" font-size="12" fill="#404040" text-anchor="end" font-weight="normal" >-0.728</text>
<text x="977.5" y="720.2" font-size="12" fill="#404040" text-anchor="start" font-weight="normal" >-0.728</text>
<text x="73.5" y="14" font-size="12" fill="#111" text-anchor="start" font-weight="normal" >现货白银</text>
<text x="122.5" y="14" font-size="12" fill="#e8922e" text-anchor="start" font-weight="normal" >【120分】</text>
<text x="210.5" y="14" font-size="12" fill="#222" text-anchor="start" font-weight="normal" textLength="125.5" lengthAdjust="spacingAndGlyphs">MA(20,50,100,200,0,0)</text>
<text x="341.5" y="14" font-size="12" fill="#4f88c2" text-anchor="start" font-weight="normal" textLength="73.5" lengthAdjust="spacingAndGlyphs">MA20:74.117</text>
<text x="424.8" y="14" font-size="12" fill="#5cc09c" text-anchor="start" font-weight="normal" textLength="74.3" lengthAdjust="spacingAndGlyphs">MA50:74.360</text>
<text x="508.5" y="14" font-size="12" fill="#5aaed4" text-anchor="start" font-weight="normal" textLength="80.5" lengthAdjust="spacingAndGlyphs">MA100:71.126</text>
<text x="597.5" y="14" font-size="12" fill="#f0a57a" text-anchor="start" font-weight="normal" textLength="80" lengthAdjust="spacingAndGlyphs">MA200:66.531</text>
<text x="73.5" y="471.8" font-size="12" fill="#222" text-anchor="start" font-weight="normal" >RSI(14,14,14)</text>
<text x="152" y="471.8" font-size="12" fill="#5896d2" text-anchor="start" font-weight="normal" >RSI1:42.118</text>
<text x="227.5" y="471.8" font-size="12" fill="#6cc49e" text-anchor="start" font-weight="normal" >RSI2:42.118</text>
<text x="302" y="471.8" font-size="12" fill="#62b2cc" text-anchor="start" font-weight="normal" >RSI3:42.118</text>
<text x="377" y="471.8" font-size="12" fill="#b8b8b8" text-anchor="start" font-weight="normal" >L20:20.000</text>
<text x="446" y="471.8" font-size="12" fill="#b8b8b8" text-anchor="start" font-weight="normal" >L30:30.000</text>
<text x="515" y="471.8" font-size="12" fill="#b8b8b8" text-anchor="start" font-weight="normal" >L50:50.000</text>
<text x="584" y="471.8" font-size="12" fill="#b8b8b8" text-anchor="start" font-weight="normal" >L70:70.000</text>
<text x="653" y="471.8" font-size="12" fill="#b8b8b8" text-anchor="start" font-weight="normal" >L80:80.000</text>
<text x="73.5" y="625" font-size="12" fill="#222" text-anchor="start" font-weight="normal" >MACD(26,12,9)</text>
<text x="164" y="625" font-size="12" fill="#5896d2" text-anchor="start" font-weight="normal" >DIFF:-0.567</text>
<text x="235" y="625" font-size="12" fill="#6cc49e" text-anchor="start" font-weight="normal" >DEA:-0.067</text>
<text x="307" y="625" font-size="12" fill="#62b2cc" text-anchor="start" font-weight="normal" >MACD:-1.001</text>
<text x="654.3" y="57" font-size="12" fill="#d4475e" text-anchor="start" font-weight="normal" >83.943</text>
<text x="843.8" y="271.6" font-size="12" fill="#45a07a" text-anchor="start" font-weight="normal" >70.486</text>
<text x="133.5" y="757" font-size="12" fill="#333" text-anchor="start" font-weight="bold" >12/18</text>
<text x="301.5" y="757" font-size="12" fill="#333" text-anchor="start" font-weight="bold" >12/20</text>
<text x="469.5" y="757" font-size="12" fill="#333" text-anchor="start" font-weight="bold" >12/24</text>
<text x="623.5" y="757" font-size="12" fill="#333" text-anchor="start" font-weight="bold" >12/27</text>
<text x="791.5" y="757" font-size="12" fill="#333" text-anchor="start" font-weight="bold" >12/31</text>
<text x="11.7" y="758.5" font-size="12" fill="#e0883a" text-anchor="start" font-weight="bold" >120分</text>
<!-- price box -->
<rect x="974.5" y="236.5" width="67" height="17" fill="#fff" stroke="#e0a060" stroke-width="1"/>
<path d="M1037.5 229 L1041 232.5 L1034 232.5 Z M1037.5 232 L1041 235.5 L1034 235.5 Z" fill="#e8902e"/>
<text x="978" y="250" font-size="12" fill="#e0954a">72.056</text>

<defs>
<filter id="wm" x="-10%" y="-30%" width="120%" height="160%">
  <feDropShadow dx="0.5" dy="1.2" stdDeviation="1.5" flood-color="#8c939c" flood-opacity="0.6"/>
</filter>
<filter id="wm2" x="-10%" y="-30%" width="120%" height="160%">
  <feDropShadow dx="0.6" dy="1" stdDeviation="1" flood-color="#8a94a4" flood-opacity="0.55"/>
</filter>
</defs>
<clipPath id="wmc"><rect x="72" y="611" width="972" height="133"/></clipPath>
<text x="794 822 860 893 914 949 979 991" y="720.5" font-size="42" font-weight="bold" fill="#ffffff" stroke="#ffffff" stroke-width="2.4" stroke-linejoin="round" opacity="0.82" filter="url(#wm)" clip-path="url(#wmc)" font-family='"Liberation Sans", sans-serif'>FastBull</text>
<text x="915.5" y="736" font-size="28.5" fill="#e6e9ee" letter-spacing="4" filter="url(#wm2)" font-family='"Liberation Sans", sans-serif'>FX678</text>

</svg>
</body></html>
